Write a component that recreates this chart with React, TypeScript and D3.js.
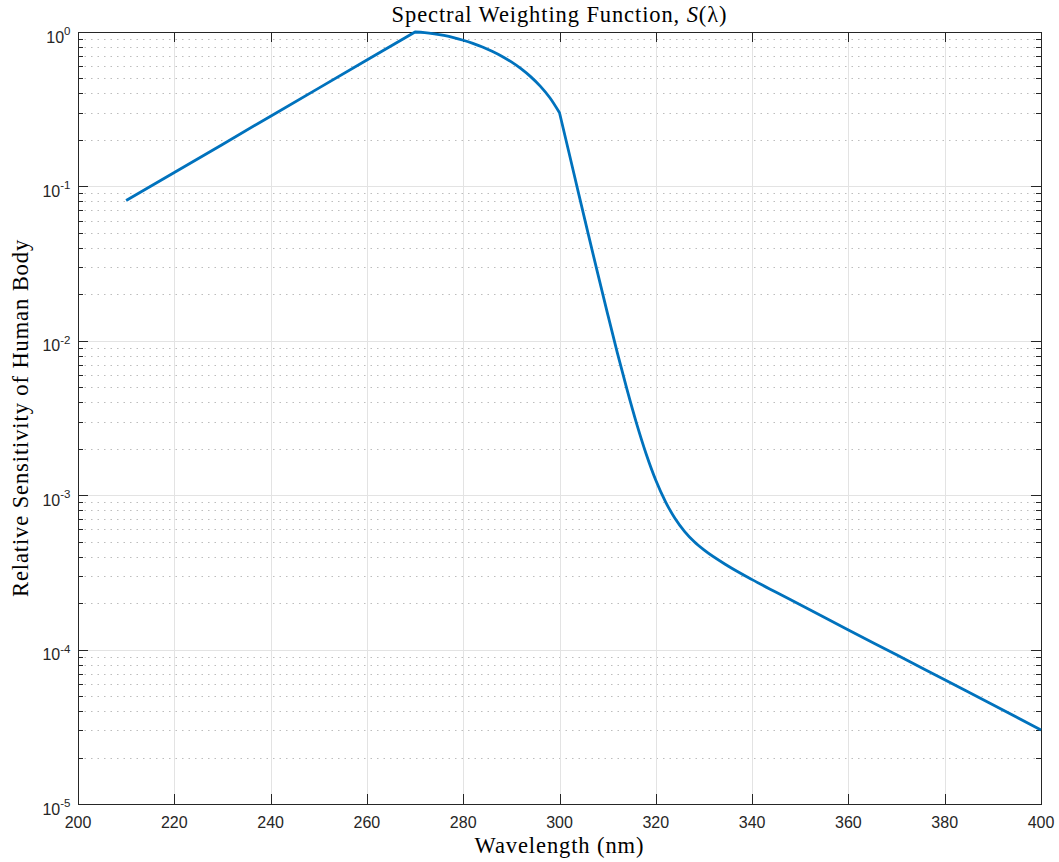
import React from "react";
import * as d3 from "d3";

// ---- data -------------------------------------------------------------
// Relative spectral effectiveness S(λ) of UV radiation on the human body.
// Rising branch 210–270 nm (straight on the log axis)
const lambdaRise = [210, 220, 230, 240, 250, 260, 270];
const sRise = [0.081, 0.123, 0.187, 0.285, 0.433, 0.658, 1.0];

// Rounded top 270–300 nm
const lambdaPeak = [270, 272, 274, 276, 278, 280, 282, 284, 286, 288, 290, 292, 294, 296, 298, 300];
const sPeak = [1.0, 0.992, 0.974, 0.95, 0.92, 0.884, 0.844, 0.8, 0.75, 0.697, 0.64, 0.579, 0.514, 0.446, 0.375, 0.3];

// Steep drop and long tail 300–400 nm
const lambdaFall = [
  300, 302, 304, 306, 308, 310, 312, 314, 316, 318, 320, 322, 324, 326, 328, 330,
  335, 340, 345, 350, 360, 370, 380, 390, 400,
];
const sFall = [
  0.3, 0.164, 0.0891, 0.0487, 0.0268, 0.0149, 0.00839, 0.00486, 0.00292, 0.00185,
  0.00125, 0.00091, 0.000706, 0.000581, 0.000499, 0.000442,
  0.000348, 0.000284, 0.000235, 0.000195, 0.000134, 0.0000925, 0.0000637, 0.0000439, 0.0000302,
];

const xTickValues = [200, 220, 240, 260, 280, 300, 320, 340, 360, 380, 400];
const yDecadeExponents = [-5, -4, -3, -2, -1, 0];

// ---- layout -----------------------------------------------------------
const WIDTH = 1059;
const HEIGHT = 862;
const PLOT = { left: 78, right: 1041, top: 32, bottom: 804 };

const AXIS_COLOR = "#262626";
const MAJOR_GRID = "#e3e3e3";
const MINOR_GRID = "#bdbdbd";
const LINE_COLOR = "#0072BD";
const SANS = "'Liberation Sans', Arial, Helvetica, sans-serif";
const SERIF = "'Liberation Serif', 'Times New Roman', serif";

const x = d3.scaleLinear().domain([200, 400]).range([PLOT.left, PLOT.right]);
const y = d3.scaleLog().domain([1e-5, 1]).range([PLOT.bottom, PLOT.top]);

const crisp = (v: number) => Math.round(v) + 0.5;

// minor log ticks 2..9 × 10^k
const minorValues: number[] = [];
for (let k = -5; k < 0; k++) {
  for (let m = 2; m <= 9; m++) minorValues.push(m * Math.pow(10, k));
}

type Pt = [number, number];
const toPts = (ls: number[], ss: number[]): Pt[] => ls.map((l, i) => [l, ss[i]]);

// Build one continuous path from several pieces, each with its own curve.
function buildCurve(): string {
  const p = d3.path();
  let started = false;
  const ctx: any = {
    moveTo(a: number, b: number) {
      if (started) p.lineTo(a, b);
      else {
        p.moveTo(a, b);
        started = true;
      }
    },
    lineTo(a: number, b: number) {
      p.lineTo(a, b);
    },
    bezierCurveTo(a: number, b: number, c: number, d: number, e: number, f: number) {
      p.bezierCurveTo(a, b, c, d, e, f);
    },
    closePath() {
      p.closePath();
    },
  };
  const mk = (curve: d3.CurveFactory) =>
    d3
      .line<Pt>()
      .x((d) => x(d[0]))
      .y((d) => y(d[1]))
      .curve(curve)
      .context(ctx);
  mk(d3.curveLinear)(toPts(lambdaRise, sRise));
  mk(d3.curveMonotoneX)(toPts(lambdaPeak, sPeak));
  mk(d3.curveMonotoneX)(toPts(lambdaFall, sFall));
  return p.toString();
}

export default function App() {
  const curvePath = buildCurve();
  const majorLen = 10;
  const minorLen = 5;

  return (
    <svg
      width={WIDTH}
      height={HEIGHT}
      viewBox={`0 0 ${WIDTH} ${HEIGHT}`}
      style={{ position: "absolute", left: 0, top: 0, background: "#fff" }}
    >
      <rect x={0} y={0} width={WIDTH} height={HEIGHT} fill="#fff" />

      {/* grid */}
      <g>
        {minorValues.map((v) => (
          <line
            key={`mg${v}`}
            x1={PLOT.left}
            x2={PLOT.right}
            y1={crisp(y(v))}
            y2={crisp(y(v))}
            stroke={MINOR_GRID}
            strokeWidth={1}
            strokeDasharray="1.5 5"
          />
        ))}
        {xTickValues.slice(1, -1).map((v) => (
          <line
            key={`xg${v}`}
            x1={crisp(x(v))}
            x2={crisp(x(v))}
            y1={PLOT.top}
            y2={PLOT.bottom}
            stroke={MAJOR_GRID}
            strokeWidth={1}
          />
        ))}
        {yDecadeExponents.slice(1, -1).map((e) => (
          <line
            key={`yg${e}`}
            x1={PLOT.left}
            x2={PLOT.right}
            y1={crisp(y(Math.pow(10, e)))}
            y2={crisp(y(Math.pow(10, e)))}
            stroke={MAJOR_GRID}
            strokeWidth={1}
          />
        ))}
      </g>

      {/* axes box and ticks */}
      <g stroke={AXIS_COLOR} strokeWidth={1} fill="none">
        <rect
          x={crisp(PLOT.left)}
          y={crisp(PLOT.top)}
          width={Math.round(PLOT.right) - Math.round(PLOT.left)}
          height={Math.round(PLOT.bottom) - Math.round(PLOT.top)}
        />
        {xTickValues.map((v) => (
          <g key={`xt${v}`}>
            <line x1={crisp(x(v))} x2={crisp(x(v))} y1={PLOT.bottom} y2={PLOT.bottom - majorLen} />
            <line x1={crisp(x(v))} x2={crisp(x(v))} y1={PLOT.top} y2={PLOT.top + majorLen} />
          </g>
        ))}
        {yDecadeExponents.map((e) => {
          const yy = crisp(y(Math.pow(10, e)));
          return (
            <g key={`yt${e}`}>
              <line x1={PLOT.left} x2={PLOT.left + majorLen} y1={yy} y2={yy} />
              <line x1={PLOT.right} x2={PLOT.right - majorLen} y1={yy} y2={yy} />
            </g>
          );
        })}
        {minorValues.map((v) => {
          const yy = crisp(y(v));
          return (
            <g key={`ym${v}`}>
              <line x1={PLOT.left} x2={PLOT.left + minorLen} y1={yy} y2={yy} />
              <line x1={PLOT.right} x2={PLOT.right - minorLen} y1={yy} y2={yy} />
            </g>
          );
        })}
      </g>

      {/* data */}
      <path d={curvePath} fill="none" stroke={LINE_COLOR} strokeWidth={2.8} strokeLinejoin="round" strokeLinecap="butt" />

      {/* tick labels */}
      <g fill={AXIS_COLOR} fontFamily={SANS} fontSize={16}>
        {xTickValues.map((v) => (
          <text key={`xl${v}`} x={x(v)} y={828} textAnchor="middle">
            {v}
          </text>
        ))}
        {yDecadeExponents.map((e) => {
          const yy = y(Math.pow(10, e));
          return (
            <text key={`yl${e}`} x={70.5} y={yy + 10.5} textAnchor="end">
              <tspan>10</tspan>
              <tspan dy={-7.5} fontSize={11.5}>
                {String(e)}
              </tspan>
            </text>
          );
        })}
      </g>

      {/* title and axis labels */}
      <g fill="#000" fontFamily={SERIF} fontSize={22.5} letterSpacing={0.9}>
        <text x={(PLOT.left + PLOT.right) / 2} y={22} textAnchor="middle">
          <tspan>Spectral Weighting Function, </tspan>
          <tspan fontStyle="italic">S</tspan>
          <tspan>(λ)</tspan>
        </text>
        <text x={(PLOT.left + PLOT.right) / 2} y={853} textAnchor="middle">
          Wavelength (nm)
        </text>
        <text
          transform={`translate(28, ${(PLOT.top + PLOT.bottom) / 2}) rotate(-90)`}
          textAnchor="middle"
        >
          Relative Sensitivity of Human Body
        </text>
      </g>
    </svg>
  );
}
